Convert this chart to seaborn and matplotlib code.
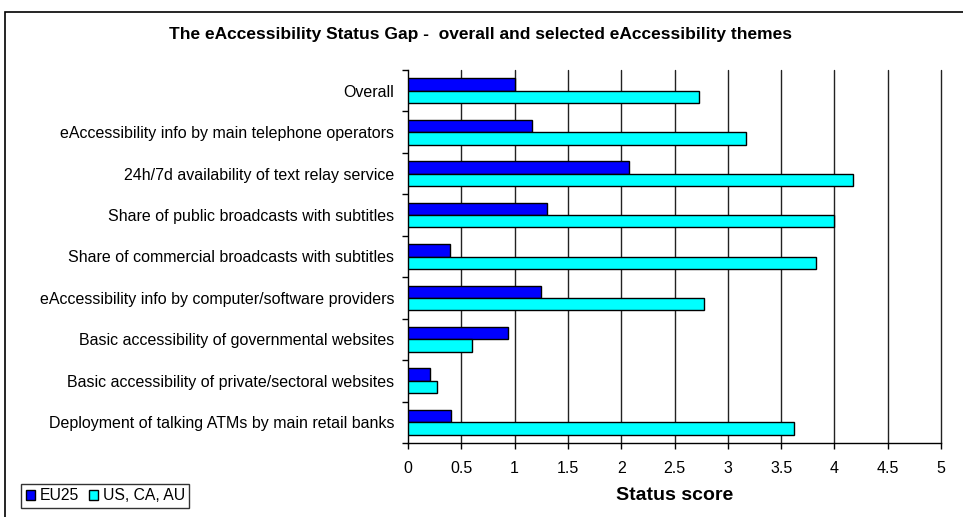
import matplotlib
matplotlib.use("Agg")
import matplotlib.pyplot as plt
import seaborn as sns
import pandas as pd
from matplotlib.patches import Rectangle, Patch

categories = [
    "Overall",
    "eAccessibility info by main telephone operators",
    "24h/7d availability of text relay service",
    "Share of public broadcasts with subtitles",
    "Share of commercial broadcasts with subtitles",
    "eAccessibility info by computer/software providers",
    "Basic accessibility of governmental websites",
    "Basic accessibility of private/sectoral websites",
    "Deployment of talking ATMs by main retail banks",
]
eu25 = [1.0, 1.16, 2.07, 1.30, 0.39, 1.25, 0.935, 0.21, 0.40]
us_ca_au = [2.73, 3.17, 4.17, 4.0, 3.83, 2.78, 0.60, 0.27, 3.62]
series_names = ["EU25", "US, CA, AU"]
colors = ["#0000FF", "#00FFFF"]
x_ticks = [0, 0.5, 1, 1.5, 2, 2.5, 3, 3.5, 4, 4.5, 5]
x_tick_labels = ["0", "0.5", "1", "1.5", "2", "2.5", "3", "3.5", "4", "4.5", "5"]

df = pd.DataFrame({
    "category": categories * 2,
    "score": eu25 + us_ca_au,
    "region": [series_names[0]] * len(categories) + [series_names[1]] * len(categories),
})

sns.set_theme(style="white")
plt.rcParams["font.family"] = ["Liberation Sans", "DejaVu Sans"]
plt.rcParams["text.color"] = "black"
plt.rcParams["axes.labelcolor"] = "black"

fig = plt.figure(figsize=(9.63, 5.17), dpi=100)
ax = fig.add_axes([408 / 963, 1 - 443 / 517, (941 - 408) / 963, (443 - 70) / 517])

sns.barplot(data=df, y="category", x="score", hue="region", order=categories,
            hue_order=series_names, palette=colors, orient="h", width=0.6,
            edgecolor="black", linewidth=1.0, saturation=1, legend=False, ax=ax,
            zorder=3)

n = len(categories)
ax.set_xlim(0, 5)
ax.set_ylim(n - 0.5, -0.5)
ax.set_xticks(x_ticks)
ax.set_xticklabels(x_tick_labels, fontsize=11.5)
ax.set_yticks(range(n))
ax.set_yticklabels(categories, fontsize=11.5)
ax.set_yticks([i - 0.5 for i in range(n + 1)], minor=True)
ax.tick_params(axis="y", which="major", length=0, pad=10, colors="black")
ax.tick_params(axis="y", which="minor", length=4, width=1, left=True, color="black")
ax.tick_params(axis="x", which="major", length=4, width=1, pad=9, bottom=True,
               color="black", labelcolor="black")
ax.set_ylabel("")
ax.set_xlabel("Status score", fontsize=14, fontweight="bold", labelpad=8, color="black")

for x in x_ticks[1:]:
    ax.axvline(x, color="#222222", lw=1.0, zorder=1, clip_on=False)

for s in ["top", "right"]:
    ax.spines[s].set_visible(False)
for s in ["left", "bottom"]:
    ax.spines[s].set_visible(True)
    ax.spines[s].set_color("black")
    ax.spines[s].set_linewidth(1.0)

fig.text(0.499, 1 - 34 / 517, "The eAccessibility Status Gap -  overall and selected eAccessibility themes",
         ha="center", va="center", fontsize=12.5, fontweight="bold", color="black")

fig.patches.append(Rectangle((5 / 963, -0.05), 1.2, 1.05 - 12 / 517, transform=fig.transFigure,
                             fill=False, edgecolor="black", lw=1.2))

handles = [Patch(facecolor=c, edgecolor="black", lw=1) for c in colors]
leg = fig.legend(handles, series_names, loc="lower left",
                 bbox_to_anchor=(21 / 963, 1 - 508 / 517), ncol=2, fontsize=11.3,
                 frameon=True, fancybox=False, handlelength=0.6, handleheight=0.6,
                 handletextpad=0.3, columnspacing=0.6, borderpad=0.3,
                 borderaxespad=0)
leg.get_frame().set_edgecolor("black")
leg.get_frame().set_linewidth(1.0)
for t in leg.get_texts():
    t.set_color("black")

fig.savefig("out.png", dpi=100, facecolor="white")
